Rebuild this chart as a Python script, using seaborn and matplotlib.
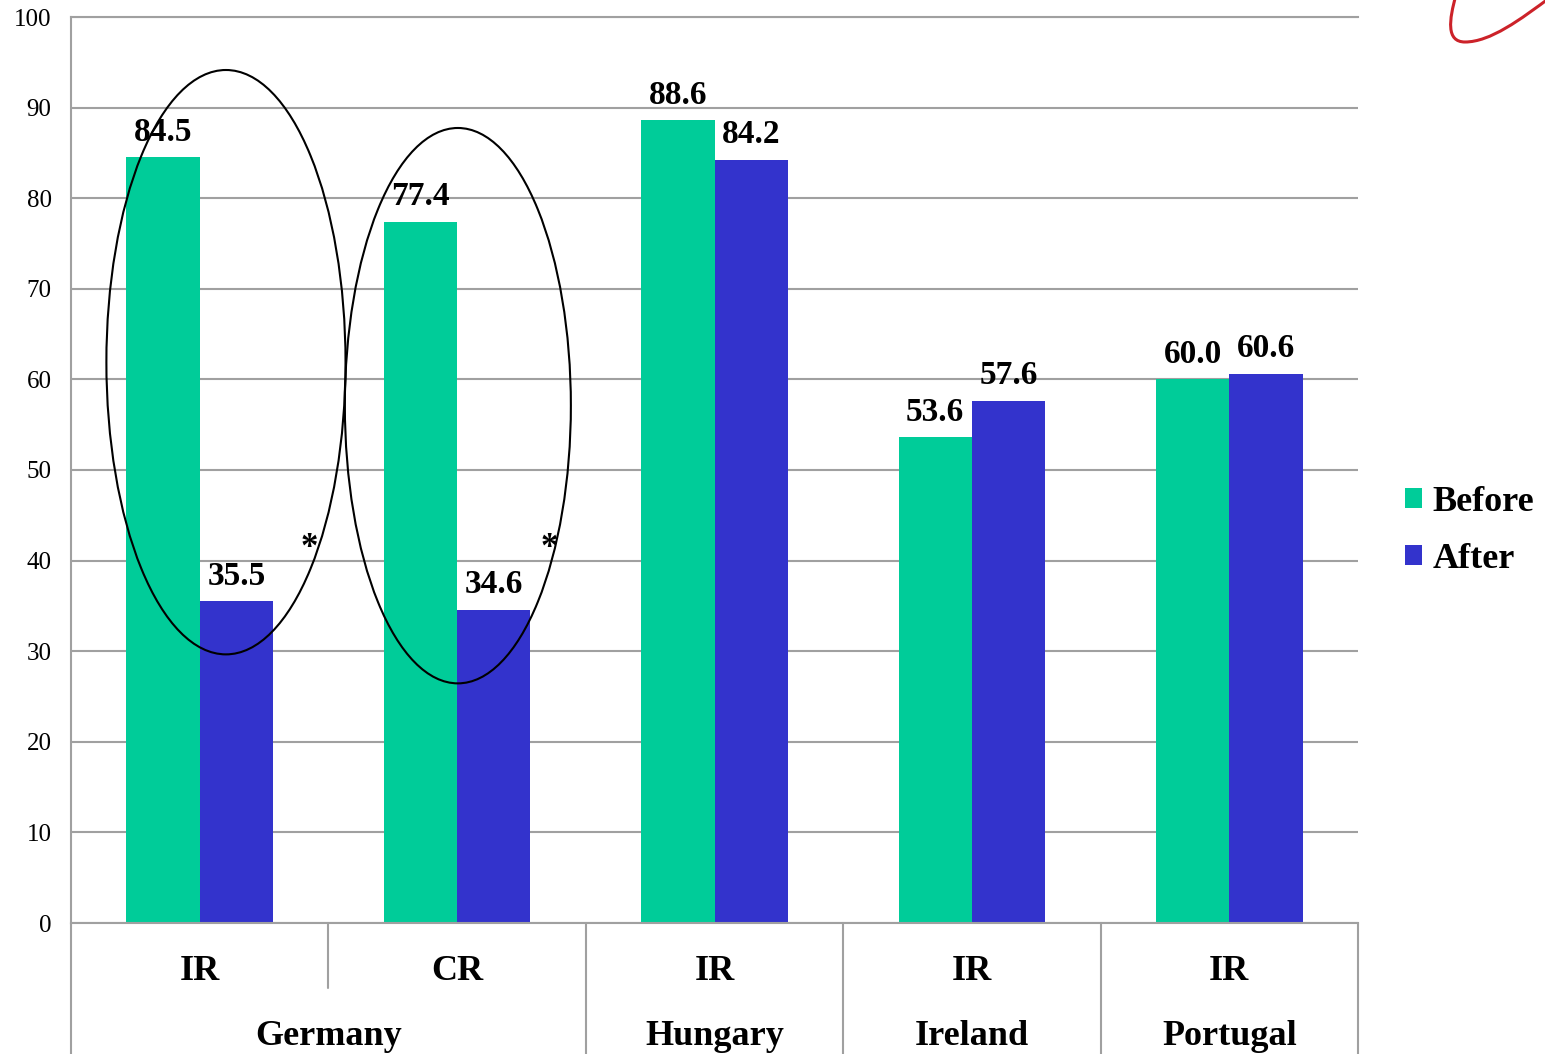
import matplotlib
matplotlib.use("Agg")
import matplotlib.pyplot as plt
import matplotlib.transforms as mtransforms
from matplotlib.patches import Ellipse, PathPatch, Patch
from matplotlib.path import Path
import seaborn as sns
import pandas as pd

# Data
countries = ["Germany", "Germany", "Hungary", "Ireland", "Portugal"]
regimes = ["IR", "CR", "IR", "IR", "IR"]
before = [84.5, 77.4, 88.6, 53.6, 60.0]
after = [35.5, 34.6, 84.2, 57.6, 60.6]
phases = ["Before", "After"]
colors = ["#00CC99", "#3333CC"]
yticks = [0, 10, 20, 30, 40, 50, 60, 70, 80, 90, 100]

keys = [f"{c} {r}" for c, r in zip(countries, regimes)]
df = pd.DataFrame({
    "key": keys * 2,
    "phase": [phases[0]] * len(keys) + [phases[1]] * len(keys),
    "value": before + after,
})

sns.set_style("white")
plt.rcParams["font.family"] = ["Liberation Serif", "DejaVu Serif"]
plt.rcParams["text.color"] = "black"
plt.rcParams["ytick.labelcolor"] = "black"
plt.rcParams["xtick.labelcolor"] = "black"

GRID = "#A0A0A0"
fig = plt.figure(figsize=(15.45, 10.54), dpi=100)
ax = fig.add_axes([71 / 1545, 131 / 1054, 1287 / 1545, 906 / 1054])

sns.barplot(data=df, x="key", y="value", hue="phase", order=keys,
            hue_order=phases, palette=colors, width=0.57, gap=0,
            saturation=1, linewidth=0, ax=ax, legend=False)

ax.set_xlim(-0.5, 4.5)
ax.set_ylim(0, 100)
ax.set_yticks(yticks)
ax.set_xlabel("")
ax.set_ylabel("")
ax.yaxis.grid(True, color=GRID, linewidth=1.5)
ax.set_axisbelow(True)
for side in ["left", "bottom", "top"]:
    ax.spines[side].set_visible(True)
    ax.spines[side].set_color(GRID)
    ax.spines[side].set_linewidth(1.5)
ax.spines["right"].set_visible(False)
ax.tick_params(axis="y", length=6, width=1.5, color=GRID, labelsize=18,
               pad=8, labelcolor="black")
ax.tick_params(axis="x", length=0, labelbottom=False)

# Value labels
for cont in ax.containers:
    ax.bar_label(cont, fmt="%.1f", padding=7, fontsize=24, fontweight="bold",
                 color="black")

# Two-level category axis
trans = mtransforms.blended_transform_factory(ax.transData, ax.transAxes)
for i, r in enumerate(regimes):
    ax.text(i, -0.063, r, transform=trans, ha="center", va="baseline",
            fontsize=26, fontweight="bold", color="black")
country_spans = {}
for i, c in enumerate(countries):
    country_spans.setdefault(c, []).append(i)
for c, idx in country_spans.items():
    ax.text(sum(idx) / len(idx), -0.1347, c, transform=trans, ha="center",
            va="baseline", fontsize=26, fontweight="bold", color="black",
            clip_on=False)

bottom_frac = -131 / 906
for b in [-0.5, 1.5, 2.5, 3.5, 4.5]:
    ax.plot([b, b], [0, bottom_frac - 0.01], transform=trans, color=GRID,
            lw=1.5, clip_on=False)
ax.plot([0.5, 0.5], [0, -65 / 906], transform=trans, color=GRID, lw=1.5,
        clip_on=False)

# Significance highlights for Germany
ax.add_patch(Ellipse((0.102, 61.9), 0.929, 64.5, fill=False, edgecolor="black",
                     lw=1.5, clip_on=False))
ax.add_patch(Ellipse((1.003, 57.1), 0.878, 61.3, fill=False, edgecolor="black",
                     lw=1.5, clip_on=False))
for xs in (0.425, 1.357):
    ax.text(xs, 40.4, "*", ha="center", va="baseline", fontsize=25,
            fontweight="bold", color="black")

# Legend
handles = [Patch(facecolor=c, edgecolor="none") for c in colors]
fig.legend(handles, phases, loc="center left",
           bbox_to_anchor=(1405 / 1545, (1054 - 531) / 1054),
           frameon=False, prop={"size": 26, "weight": "bold"},
           handlelength=0.47, handleheight=0.47, handletextpad=0.3,
           labelspacing=0.66, borderpad=0, borderaxespad=0,
           labelcolor="black")

# Corner flourish
W, H = 1545, 1054
pts = [(1456, -5), (1449, 20), (1446, 42), (1465, 42),
       (1490, 42), (1520, 20), (1552, -4)]
verts = [(x / W, 1 - y / H) for x, y in pts]
codes = [Path.MOVETO] + [Path.CURVE4] * 6
fig.add_artist(PathPatch(Path(verts, codes), facecolor="none",
                         edgecolor="#CC2229", lw=2.2,
                         transform=fig.transFigure))

fig.savefig("out.png", dpi=100)
